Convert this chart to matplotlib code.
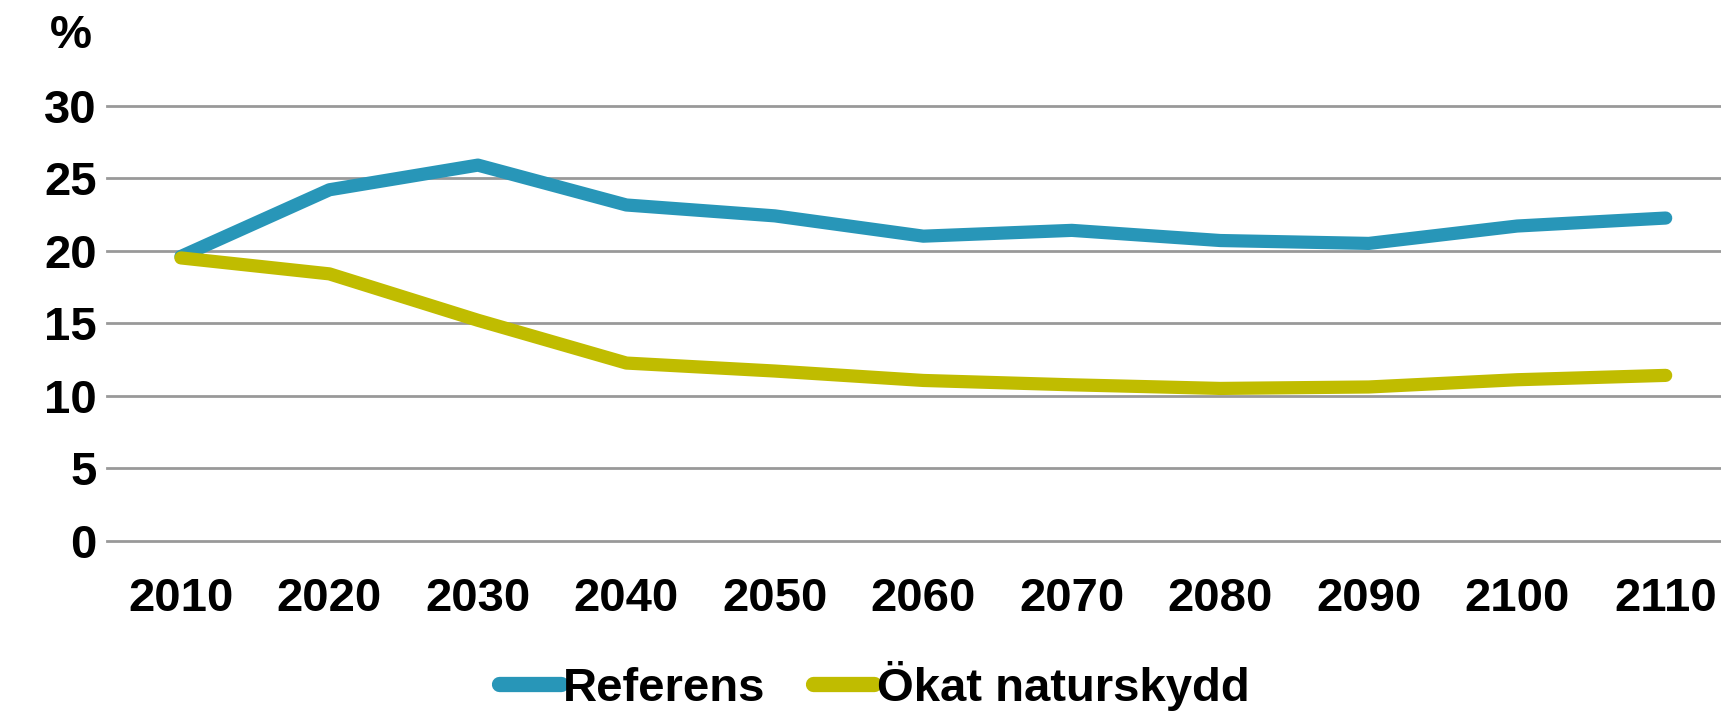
import matplotlib
matplotlib.use("Agg")
import matplotlib.pyplot as plt

plt.rcParams['font.family'] = ['Liberation Sans', 'DejaVu Sans']
plt.rcParams['font.weight'] = 'bold'

years = ['2010', '2020', '2030', '2040', '2050', '2060', '2070', '2080', '2090', '2100', '2110']
referens = [19.6, 24.2, 25.9, 23.15, 22.4, 21.0, 21.4, 20.7, 20.5, 21.7, 22.25]
naturskydd = [19.5, 18.4, 15.2, 12.25, 11.7, 11.05, 10.75, 10.5, 10.6, 11.1, 11.4]
yticks = [0, 5, 10, 15, 20, 25, 30]

fig = plt.figure(figsize=(17.21, 7.12), dpi=100)
ax = fig.add_axes([0.062, 0.2406, 0.949, 0.611])

x = range(len(years))
ax.plot(x, referens, color='#2896B8', lw=9.5, solid_capstyle='round', label='Referens')
ax.plot(x, naturskydd, color='#C0BC00', lw=9.5, solid_capstyle='round', label='Ökat naturskydd')

ax.set_xlim(-0.5, len(years) - 0.5)
ax.set_ylim(0, 30)
ax.set_yticks(yticks)
ax.set_xticks(list(x))
ax.set_xticklabels(years)
ax.yaxis.grid(True, color='#999999', lw=2)
for gl in ax.get_ygridlines():
    gl.set_clip_on(False)
ax.set_axisbelow(True)
for s in ax.spines.values():
    s.set_visible(False)
ax.tick_params(axis='both', length=0, labelsize=34)
ax.tick_params(axis='x', pad=26)
ax.tick_params(axis='y', pad=7)

fig.text(71 / 1721, 1 - 36 / 712, '%', fontsize=34, fontweight='bold', ha='center', va='center')

leg = fig.legend(loc='center', bbox_to_anchor=(0.508, 0.0365), ncol=2, frameon=False,
                 fontsize=34, handlelength=1.3, handletextpad=0.05, columnspacing=1.0)
for h in leg.get_lines():
    h.set_linewidth(11)
    h.set_solid_capstyle('round')

fig.savefig('out.png', dpi=100)
